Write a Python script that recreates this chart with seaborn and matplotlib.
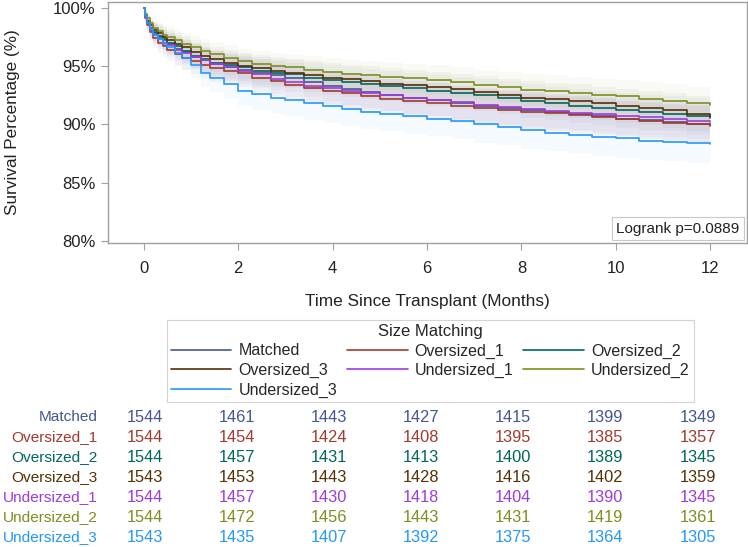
import numpy as np
import pandas as pd
import matplotlib
matplotlib.use("Agg")
import matplotlib.pyplot as plt
from matplotlib.lines import Line2D
import seaborn as sns

# ---------------- data ----------------
groups = ["Matched", "Oversized_1", "Oversized_2", "Oversized_3",
          "Undersized_1", "Undersized_2", "Undersized_3"]
colors = ["#445694", "#A23A2E", "#01665E", "#543005",
          "#9D3CDB", "#7F8E1F", "#2597FA"]

months = [0, 0.03, 0.07, 0.12, 0.2, 0.3, 0.4, 0.5, 0.65, 0.8, 1.0, 1.2, 1.4, 1.7,
          2.0, 2.3, 2.7, 3.0, 3.4, 3.8, 4.2, 4.6, 5.0, 5.5, 6.0, 6.5, 7.0, 7.5,
          8.0, 8.5, 9.0, 9.5, 10.0, 10.5, 11.0, 11.5, 12.0]

surv_matched = [100, 99.2, 98.7, 98.2, 97.8, 97.5, 97.2, 96.9, 96.5, 96.2, 95.8, 95.5, 95.2, 94.9,
                94.7, 94.4, 94.2, 94.0, 93.6, 93.3, 93.0, 92.8, 92.5, 92.3, 92.1, 91.85, 91.6, 91.4,
                91.2, 91.05, 90.9, 90.7, 90.5, 90.35, 90.2, 90.05, 89.95]
surv_over1 = [100, 99.1, 98.5, 97.9, 97.4, 97.0, 96.7, 96.4, 96.0, 95.7, 95.4, 95.1, 94.8, 94.6,
              94.4, 94.0, 93.7, 93.4, 93.1, 92.9, 92.7, 92.45, 92.2, 92.0, 91.8, 91.6, 91.4, 91.25,
              91.1, 90.95, 90.8, 90.65, 90.5, 90.3, 90.1, 90.0, 89.9]
surv_over2 = [100, 99.3, 98.8, 98.3, 97.9, 97.6, 97.3, 97.0, 96.7, 96.3, 95.9, 95.6, 95.3, 95.1,
              94.9, 94.6, 94.4, 94.3, 94.0, 93.8, 93.6, 93.45, 93.3, 93.1, 92.9, 92.7, 92.5, 92.3,
              92.0, 91.8, 91.6, 91.4, 91.2, 91.05, 90.9, 90.7, 90.55]
surv_over3 = [100, 99.4, 98.9, 98.5, 98.1, 97.8, 97.5, 97.2, 96.9, 96.6, 96.2, 95.9, 95.6, 95.3,
              95.0, 94.8, 94.6, 94.4, 94.2, 94.0, 93.85, 93.7, 93.5, 93.35, 93.2, 93.0, 92.8, 92.55,
              92.3, 92.15, 92.0, 91.8, 91.6, 91.4, 91.2, 90.9, 90.65]
surv_under1 = [100, 99.2, 98.6, 98.1, 97.7, 97.3, 97.0, 96.8, 96.4, 96.1, 95.8, 95.5, 95.2, 94.9,
               94.6, 94.3, 93.9, 93.6, 93.3, 93.1, 92.9, 92.7, 92.5, 92.3, 92.1, 91.9, 91.7, 91.5,
               91.3, 91.15, 91.0, 90.85, 90.7, 90.6, 90.45, 90.3, 90.2]
surv_under2 = [100, 99.5, 99.1, 98.7, 98.3, 98.0, 97.7, 97.5, 97.2, 96.9, 96.6, 96.3, 96.0, 95.7,
               95.4, 95.2, 95.0, 94.9, 94.7, 94.5, 94.3, 94.2, 94.1, 93.95, 93.8, 93.6, 93.4, 93.2,
               92.95, 92.85, 92.7, 92.55, 92.4, 92.2, 92.0, 91.8, 91.65]
surv_under3 = [100, 99.3, 98.7, 98.2, 97.7, 97.3, 96.9, 96.6, 96.1, 95.7, 95.1, 94.4, 94.0, 93.5,
               92.9, 92.6, 92.3, 92.1, 91.8, 91.6, 91.3, 91.1, 90.9, 90.7, 90.5, 90.3, 90.0, 89.8,
               89.5, 89.3, 89.1, 88.95, 88.8, 88.6, 88.5, 88.4, 88.35]

survival = [surv_matched, surv_over1, surv_over2, surv_over3,
            surv_under1, surv_under2, surv_under3]

risk_times = [0, 2, 4, 6, 8, 10, 12]
at_risk = {
    "Matched":      [1544, 1461, 1443, 1427, 1415, 1399, 1349],
    "Oversized_1":  [1544, 1454, 1424, 1408, 1395, 1385, 1357],
    "Oversized_2":  [1544, 1457, 1431, 1413, 1400, 1389, 1345],
    "Oversized_3":  [1543, 1453, 1443, 1428, 1416, 1402, 1359],
    "Undersized_1": [1544, 1457, 1430, 1418, 1404, 1390, 1345],
    "Undersized_2": [1544, 1472, 1456, 1443, 1431, 1419, 1361],
    "Undersized_3": [1543, 1435, 1407, 1392, 1375, 1364, 1305],
}
n_ci = 1400  # approximate size used for the confidence band
logrank_text = "Logrank p=0.0889"

# ---------------- plotting ----------------
sns.set_theme(style="white")
plt.rcParams["font.family"] = ["Liberation Sans", "DejaVu Sans"]

df = pd.DataFrame({
    "month": np.tile(months, len(groups)),
    "survival": np.concatenate(survival),
    "group": np.repeat(groups, len(months)),
})
palette = dict(zip(groups, colors))

fig = plt.figure(figsize=(7.48, 5.47), dpi=100)
ax = fig.add_axes([0.1444, 0.5558, 0.8543, 0.4405])

# confidence bands
for g, c, s in zip(groups, colors, survival):
    s = np.array(s) / 100.0
    half = 1.96 * np.sqrt(s * (1 - s) / n_ci) * 100
    ax.fill_between(months, s * 100 - half, s * 100 + half,
                    step="post", color=c, alpha=0.045, linewidth=0)

sns.lineplot(data=df, x="month", y="survival", hue="group", palette=palette,
             hue_order=groups, drawstyle="steps-post", estimator=None,
             linewidth=1.2, legend=False, ax=ax)

ax.set_xlim(-0.76, 12.78)
ax.set_ylim(79.83, 100.49)
ax.set_xticks([0, 2, 4, 6, 8, 10, 12])
ax.set_yticks([80, 85, 90, 95, 100])
ax.set_yticklabels([f"{v}%" for v in [80, 85, 90, 95, 100]])
ax.tick_params(axis="both", which="both", direction="out", length=5, width=0.8,
               color="#a0a0a0", labelsize=12, labelcolor="#222222",
               bottom=True, left=True)
ax.tick_params(axis="x", pad=8)
ax.tick_params(axis="y", pad=4)
for sp in ax.spines.values():
    sp.set_color("#a0a0a0")
    sp.set_linewidth(1.0)
ax.set_xlabel("Time Since Transplant (Months)", fontsize=12.4, color="#222222", labelpad=13)
ax.set_ylabel("Survival Percentage (%)", fontsize=12.3, color="#222222", labelpad=24)

ax.text(0.988, 0.03, logrank_text, transform=ax.transAxes, ha="right", va="bottom",
        fontsize=11, color="#222222",
        bbox=dict(boxstyle="square,pad=0.3", facecolor="white", edgecolor="#c8c8c8", linewidth=0.8))

# legend (row-wise ordering emulated)
handles = {g: Line2D([], [], color=c, linewidth=1.2) for g, c in zip(groups, colors)}
order = ["Matched", "Oversized_3", "Undersized_3", "Oversized_1", "Undersized_1",
         "Oversized_2", "Undersized_2"]
leg = fig.legend([handles[g] for g in order], order, ncol=3, title="Size Matching",
                 loc="upper center", bbox_to_anchor=(0.575, 1 - 320 / 547),
                 fontsize=11.5, title_fontsize=12, frameon=True, fancybox=False,
                 edgecolor="#c8c8c8", handlelength=3.8, handletextpad=0.45,
                 columnspacing=0.6, labelspacing=0.28, borderpad=0.25,
                 borderaxespad=0)
leg.get_frame().set_linewidth(0.8)

# number-at-risk table
col_x = [145, 237, 329, 421, 513, 605, 698]
row_y = [417, 437, 457, 477, 497, 517, 537]
for g, c, yy in zip(groups, colors, row_y):
    fig.text(98 / 748, 1 - yy / 547, g, ha="right", va="center", fontsize=11.1, color=c)
    for xx, v in zip(col_x, at_risk[g]):
        fig.text(xx / 748, 1 - yy / 547, str(v), ha="center", va="center",
                 fontsize=11.8, color=c)

fig.savefig("out.png", dpi=100)
